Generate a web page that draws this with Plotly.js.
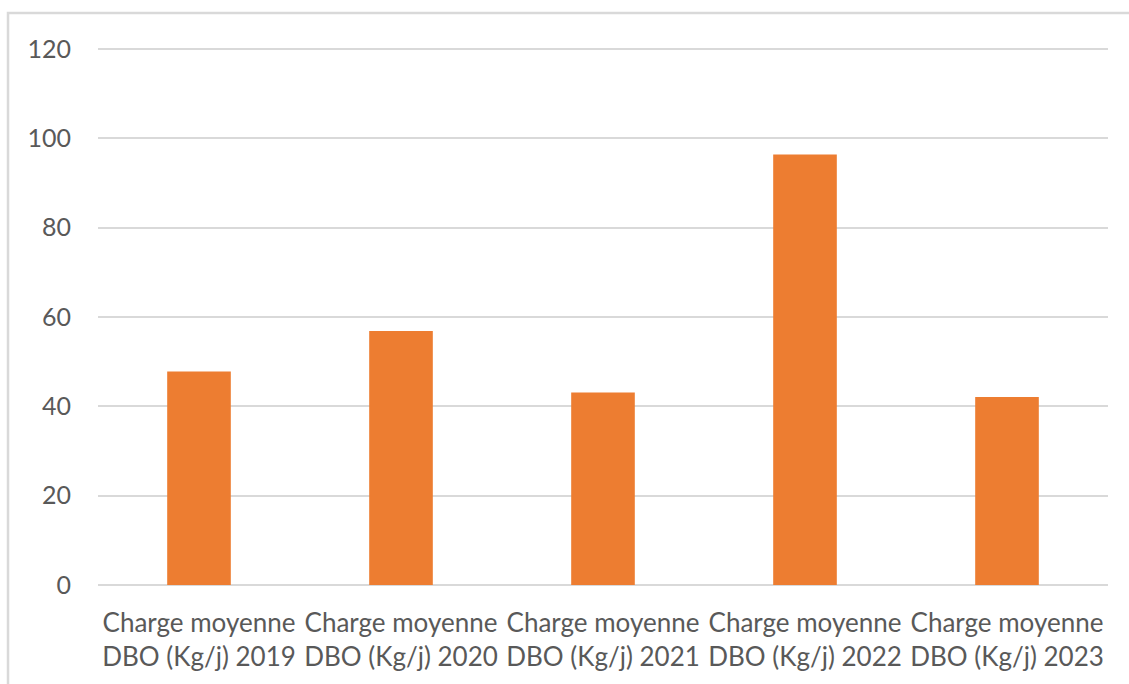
<!DOCTYPE html>
<html>
<head>
<meta charset="utf-8">
<script src="https://cdn.plot.ly/plotly-3.0.1.min.js"></script>
<style>html,body{margin:0;padding:0;background:#fff;}#chart{width:1129px;height:684px;}</style>
</head>
<body>
<div id="chart"></div>
<script>
const categories = [
  "Charge moyenne<br>DBO (Kg/j) 2019",
  "Charge moyenne<br>DBO (Kg/j) 2020",
  "Charge moyenne<br>DBO (Kg/j) 2021",
  "Charge moyenne<br>DBO (Kg/j) 2022",
  "Charge moyenne<br>DBO (Kg/j) 2023"
];
const values = [47.8, 56.9, 43.1, 96.4, 42.1];
const yTicks = [0, 20, 40, 60, 80, 100, 120];

const trace = {
  type: 'bar',
  x: categories,
  y: values,
  marker: {color: '#ED7D31'},
  hoverinfo: 'x+y'
};

const layout = {
  width: 1129,
  height: 684,
  margin: {l: 98, r: 21, t: 48, b: 99},
  paper_bgcolor: '#ffffff',
  plot_bgcolor: '#ffffff',
  bargap: 0.685,
  showlegend: false,
  font: {family: 'Lato, "Open Sans", sans-serif', color: '#595959', size: 22},
  xaxis: {
    type: 'category',
    showgrid: false,
    showline: false,
    zeroline: false,
    ticks: '',
    tickangle: 0,
    ticklabelstandoff: 20,
    tickfont: {size: 26, color: '#595959'},
    automargin: false
  },
  yaxis: {
    range: [0, 120.25],
    tickvals: yTicks,
    ticktext: yTicks.map(String),
    showgrid: true,
    gridcolor: '#d9d9d9',
    gridwidth: 2,
    zeroline: true,
    zerolinecolor: '#d9d9d9',
    zerolinewidth: 2,
    showline: false,
    ticks: '',
    ticklabelstandoff: 26,
    tickfont: {size: 25, color: '#595959'},
    automargin: false
  },
  shapes: [{
    type: 'rect', xref: 'paper', yref: 'paper',
    x0: -0.0891, x1: 1.05, y0: -0.3, y1: 1.0653,
    line: {color: '#d9d9d9', width: 2.5},
    fillcolor: 'rgba(0,0,0,0)',
    layer: 'below'
  }]
};

Plotly.newPlot('chart', [trace], layout, {displayModeBar: false, staticPlot: true});
</script>
</body>
</html>
